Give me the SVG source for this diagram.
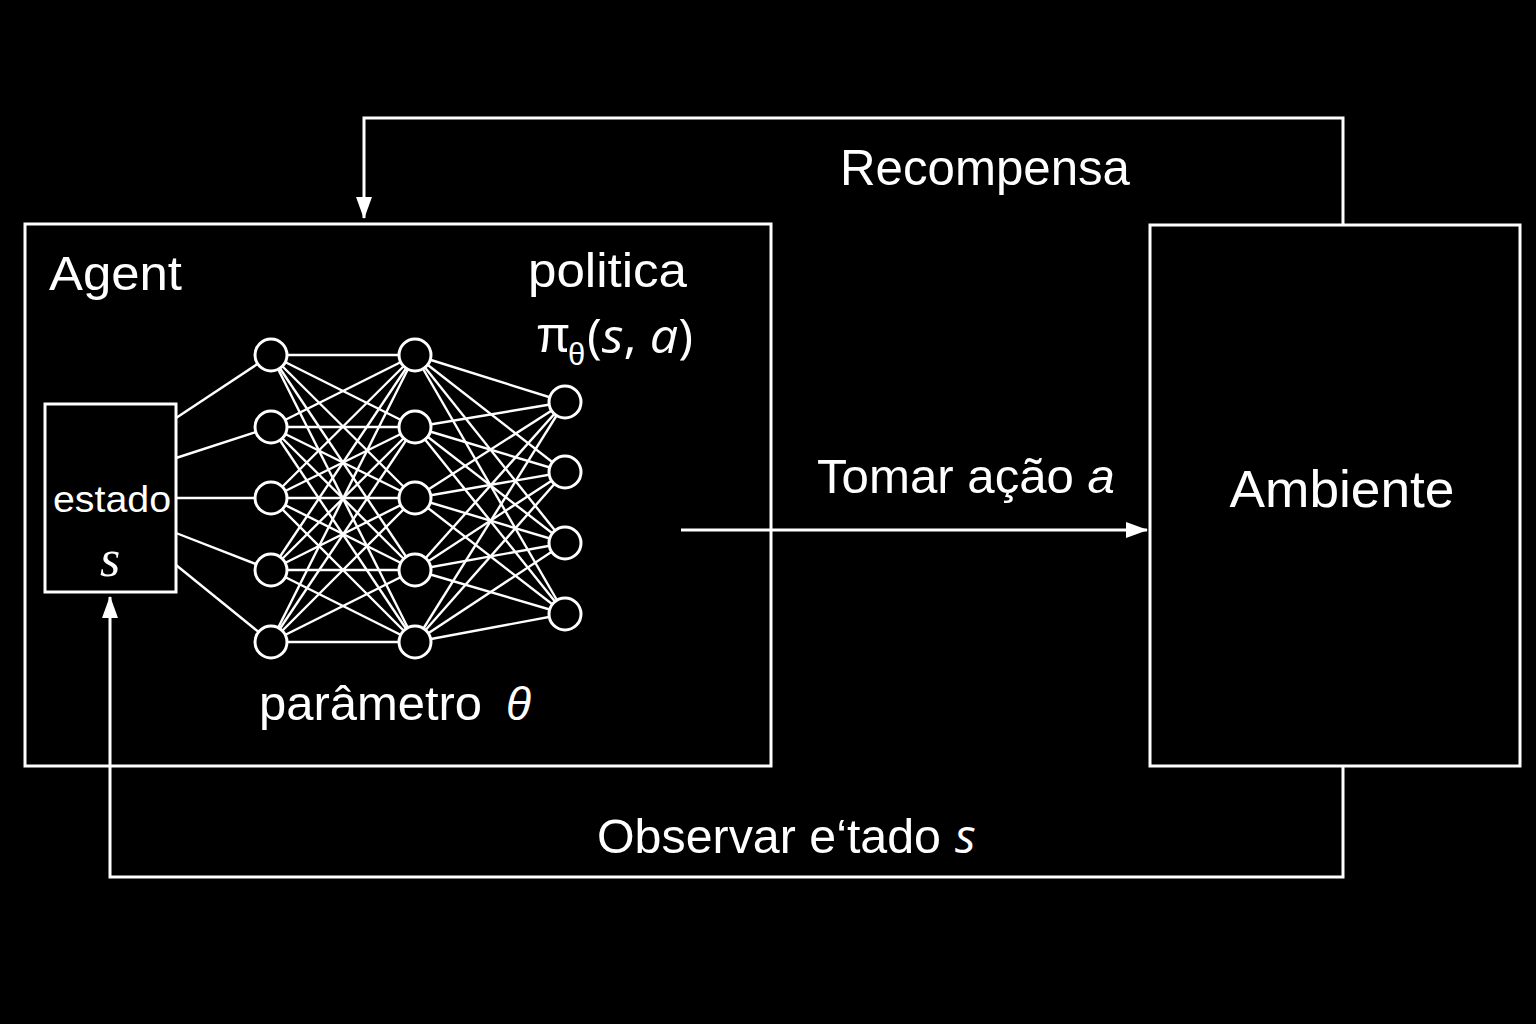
<svg xmlns="http://www.w3.org/2000/svg" width="1536" height="1024" viewBox="0 0 1536 1024">
<defs>
<style>
.box{fill:#000;stroke:#fff;stroke-width:3}
.wire{stroke:#fff;stroke-width:2.4;fill:none}
.conn{stroke:#fff;stroke-width:3;fill:none}
.neuron{fill:#000;stroke:#fff;stroke-width:3}
.t{fill:#fff;font-family:"Liberation Sans",Arial,sans-serif}
.it{font-style:italic}
.serif{font-family:"Liberation Serif","Times New Roman",serif}
.math{font-family:"Open Sans","DejaVu Sans",sans-serif}
</style>
<marker id="ah" viewBox="0 0 22 16" refX="21" refY="8" markerWidth="22" markerHeight="16" markerUnits="userSpaceOnUse" orient="auto">
<path d="M0,0 L22,8 L0,16 z" fill="#fff"/>
</marker>
</defs>
<rect width="1536" height="1024" fill="#000"/>

<g id="agent">
<rect class="box" x="25" y="224" width="746" height="542"/>
<text class="t" x="49" y="290" font-size="48" textLength="133" lengthAdjust="spacingAndGlyphs">Agent</text>
<text class="t" x="528" y="287" font-size="48" textLength="159" lengthAdjust="spacingAndGlyphs">politica</text>
<text class="t" x="536" y="352" font-size="50">π</text>
<text class="t" x="568" y="365" font-size="31">θ</text>
<text class="t math" x="587" y="353" font-size="48" textLength="106" lengthAdjust="spacingAndGlyphs">(<tspan font-style="italic">s</tspan>, <tspan font-style="italic">a</tspan>)</text>
<text class="t" x="259" y="720" font-size="48" textLength="223" lengthAdjust="spacingAndGlyphs">parâmetro</text>
<text class="t it" x="506" y="720" font-size="46">θ</text>
</g>

<g id="estado">
<rect class="box" x="45" y="404" width="131" height="188"/>
<text class="t" x="112" y="512" font-size="37" text-anchor="middle" textLength="118" lengthAdjust="spacingAndGlyphs">estado</text>
<text class="t it serif" x="110" y="576" font-size="52" text-anchor="middle">s</text>
</g>

<g id="network">
<g class="wire">
<line x1="176" y1="418" x2="271" y2="355"/>
<line x1="176" y1="458" x2="271" y2="427"/>
<line x1="176" y1="498" x2="271" y2="498"/>
<line x1="176" y1="533" x2="271" y2="570"/>
<line x1="176" y1="565" x2="271" y2="642"/>
<line x1="271" y1="355" x2="415" y2="355"/><line x1="271" y1="355" x2="415" y2="427"/><line x1="271" y1="355" x2="415" y2="498"/><line x1="271" y1="355" x2="415" y2="570"/><line x1="271" y1="355" x2="415" y2="642"/>
<line x1="271" y1="427" x2="415" y2="355"/><line x1="271" y1="427" x2="415" y2="427"/><line x1="271" y1="427" x2="415" y2="498"/><line x1="271" y1="427" x2="415" y2="570"/><line x1="271" y1="427" x2="415" y2="642"/>
<line x1="271" y1="498" x2="415" y2="355"/><line x1="271" y1="498" x2="415" y2="427"/><line x1="271" y1="498" x2="415" y2="498"/><line x1="271" y1="498" x2="415" y2="570"/><line x1="271" y1="498" x2="415" y2="642"/>
<line x1="271" y1="570" x2="415" y2="355"/><line x1="271" y1="570" x2="415" y2="427"/><line x1="271" y1="570" x2="415" y2="498"/><line x1="271" y1="570" x2="415" y2="570"/><line x1="271" y1="570" x2="415" y2="642"/>
<line x1="271" y1="642" x2="415" y2="355"/><line x1="271" y1="642" x2="415" y2="427"/><line x1="271" y1="642" x2="415" y2="498"/><line x1="271" y1="642" x2="415" y2="570"/><line x1="271" y1="642" x2="415" y2="642"/>
<line x1="415" y1="355" x2="565" y2="402"/><line x1="415" y1="355" x2="565" y2="472"/><line x1="415" y1="355" x2="565" y2="543"/><line x1="415" y1="355" x2="565" y2="614"/>
<line x1="415" y1="427" x2="565" y2="402"/><line x1="415" y1="427" x2="565" y2="472"/><line x1="415" y1="427" x2="565" y2="543"/><line x1="415" y1="427" x2="565" y2="614"/>
<line x1="415" y1="498" x2="565" y2="402"/><line x1="415" y1="498" x2="565" y2="472"/><line x1="415" y1="498" x2="565" y2="543"/><line x1="415" y1="498" x2="565" y2="614"/>
<line x1="415" y1="570" x2="565" y2="402"/><line x1="415" y1="570" x2="565" y2="472"/><line x1="415" y1="570" x2="565" y2="543"/><line x1="415" y1="570" x2="565" y2="614"/>
<line x1="415" y1="642" x2="565" y2="402"/><line x1="415" y1="642" x2="565" y2="472"/><line x1="415" y1="642" x2="565" y2="543"/><line x1="415" y1="642" x2="565" y2="614"/>
</g>
<g class="neuron">
<circle cx="271" cy="355" r="16"/><circle cx="271" cy="427" r="16"/><circle cx="271" cy="498" r="16"/><circle cx="271" cy="570" r="16"/><circle cx="271" cy="642" r="16"/>
<circle cx="415" cy="355" r="16"/><circle cx="415" cy="427" r="16"/><circle cx="415" cy="498" r="16"/><circle cx="415" cy="570" r="16"/><circle cx="415" cy="642" r="16"/>
<circle cx="565" cy="402" r="16"/><circle cx="565" cy="472" r="16"/><circle cx="565" cy="543" r="16"/><circle cx="565" cy="614" r="16"/>
</g>
</g>

<g id="ambiente">
<rect class="box" x="1150" y="225" width="370" height="541"/>
<text class="t" x="1342" y="507" font-size="52" text-anchor="middle" textLength="225" lengthAdjust="spacingAndGlyphs">Ambiente</text>
</g>

<g id="connectors">
<path class="conn" d="M1343,225 V118 H364 V218" marker-end="url(#ah)"/>
<path class="conn" d="M681,530 H1147" marker-end="url(#ah)"/>
<path class="conn" d="M1343,766 V877 H110 V597" marker-end="url(#ah)"/>
</g>

<g id="labels">
<text class="t" x="840" y="185" font-size="50" textLength="290" lengthAdjust="spacingAndGlyphs">Recompensa</text>
<text class="t" x="817" y="493" font-size="48" textLength="298" lengthAdjust="spacingAndGlyphs">Tomar ação <tspan font-style="italic">a</tspan></text>
<text class="t" x="597" y="853" font-size="48" textLength="344" lengthAdjust="spacingAndGlyphs">Observar e‘tado</text>
<text class="t it math" x="955" y="853" font-size="48">s</text>
</g>
</svg>
